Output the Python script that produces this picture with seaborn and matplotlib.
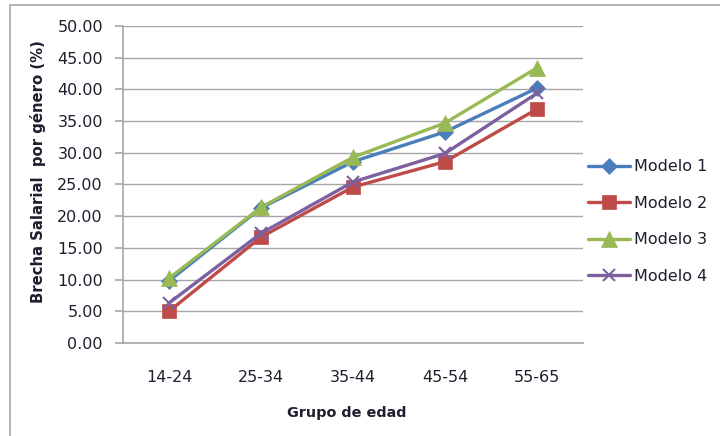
import matplotlib
matplotlib.use("Agg")
import matplotlib.pyplot as plt
import matplotlib.patches as mpatches
import pandas as pd
import seaborn as sns

grupos = ["14-24", "25-34", "35-44", "45-54", "55-65"]
modelo_1 = [9.8, 21.3, 28.6, 33.3, 40.2]
modelo_2 = [5.0, 16.7, 24.6, 28.6, 36.9]
modelo_3 = [10.2, 21.4, 29.3, 34.7, 43.4]
modelo_4 = [6.3, 17.3, 25.4, 29.9, 39.4]
series_names = ["Modelo 1", "Modelo 2", "Modelo 3", "Modelo 4"]
y_ticks = [0, 5, 10, 15, 20, 25, 30, 35, 40, 45, 50]

df = pd.DataFrame({
    "grupo": grupos * 4,
    "valor": modelo_1 + modelo_2 + modelo_3 + modelo_4,
    "modelo": [n for n in series_names for _ in grupos],
})

sns.set_theme(style="white")
plt.rcParams["font.family"] = ["DejaVu Sans"]

text_color = "#1E1E2E"
colors = {"Modelo 1": "#4A7EBB", "Modelo 2": "#BE4B48",
          "Modelo 3": "#98B954", "Modelo 4": "#7D60A0"}
markers = {"Modelo 1": "D", "Modelo 2": "s", "Modelo 3": "^", "Modelo 4": "x"}
msizes = {"Modelo 1": 8, "Modelo 2": 10, "Modelo 3": 11, "Modelo 4": 9}

fig = plt.figure(figsize=(7.2, 4.36), dpi=100)
ax = fig.add_axes([123 / 720, 1 - 343 / 436, 460 / 720, 317 / 436])

# outer chart frame
fig.add_artist(mpatches.Rectangle((10 / 720, -0.05), 1.0, 1 - 5 / 436 + 0.05,
                                  transform=fig.transFigure, fill=False,
                                  edgecolor="#A6A6A6", linewidth=1.2))

for name in series_names:
    sub = df[df["modelo"] == name]
    sns.lineplot(data=sub, x="grupo", y="valor", ax=ax, color=colors[name],
                 marker=markers[name], markersize=msizes[name],
                 markeredgecolor=colors[name],
                 markeredgewidth=1.5 if name == "Modelo 4" else 0.5,
                 linewidth=2.4, label=name, sort=False)

ax.set_xlim(-0.5, 4.5)
ax.set_ylim(0, 50)
ax.set_yticks(y_ticks)
ax.set_yticklabels([f"{v:.2f}" for v in y_ticks], fontsize=11.5, color=text_color)
ax.set_xticks(range(len(grupos)))
ax.set_xticklabels(grupos, fontsize=11.5, color=text_color)
ax.yaxis.grid(True, color="#A6A6A6", linewidth=1)
ax.xaxis.grid(False)
for s in ["top", "right"]:
    ax.spines[s].set_visible(False)
for s in ["left", "bottom"]:
    ax.spines[s].set_color("#A6A6A6")
    ax.spines[s].set_linewidth(1.2)
ax.tick_params(axis="y", which="both", left=True, length=5.8, width=1.2,
               color="#A6A6A6", pad=8.6, direction="out")
ax.tick_params(axis="x", bottom=False, pad=13.4)

ax.set_xlabel("Grupo de edad", fontsize=10.4, fontweight="bold", color=text_color)
ax.xaxis.set_label_coords((347 - 123) / 460, -(406 - 343) / 317)
ax.set_ylabel("Brecha Salarial  por género (%)", fontsize=10.7, fontweight="bold",
              color=text_color)
ax.yaxis.set_label_coords((46 - 123) / 460, (343 - 171.5) / 317)

handles, labels = ax.get_legend_handles_labels()
ax.get_legend().remove()
fig.legend(handles, labels, loc="center left", bbox_to_anchor=(588 / 720, 1 - 221.5 / 436),
           frameon=False, fontsize=11.5, handlelength=2.6, labelspacing=1.34,
           handletextpad=0.25, borderaxespad=0, borderpad=0, labelcolor=text_color)

fig.savefig("out.png", dpi=100)
